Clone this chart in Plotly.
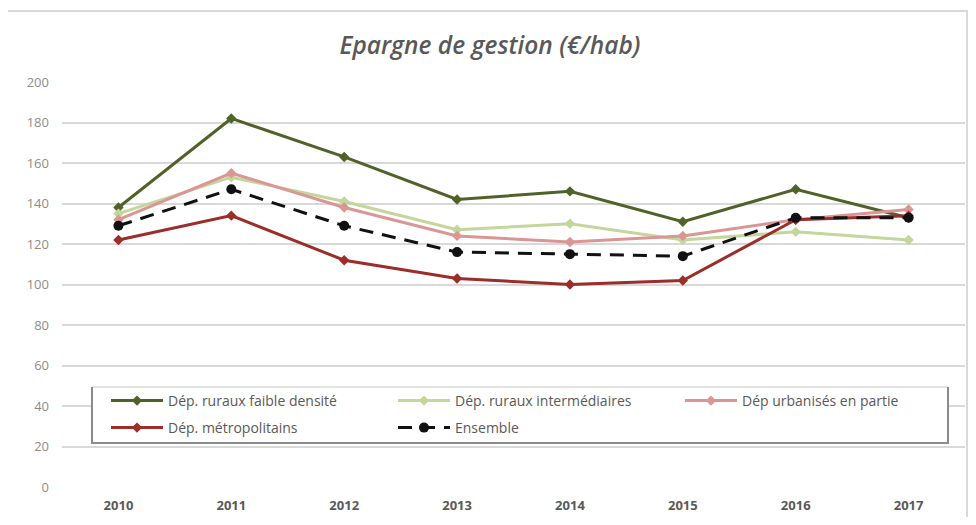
import plotly.graph_objects as go

years = ["2010", "2011", "2012", "2013", "2014", "2015", "2016", "2017"]
faible_densite = [138, 182, 163, 142, 146, 131, 147, 133]
intermediaires = [135, 153, 141, 127, 130, 122, 126, 122]
urbanises = [132, 155, 138, 124, 121, 124, 132, 137]
metropolitains = [122, 134, 112, 103, 100, 102, 132, 134]
ensemble = [129, 147, 129, 116, 115, 114, 133, 133]

series_names = ["Dép. ruraux faible densité", "Dép. ruraux intermédiaires",
                "Dép urbanisés en partie", "Dép. métropolitains", "Ensemble"]
series_values = [faible_densite, intermediaires, urbanises, metropolitains, ensemble]
colors = ["#4f6228", "#c3d69b", "#d99694", "#9b2d2a", "#111111"]

# page geometry (the page body has an 8px offset)
OFF = 8
PL, PR, PT, PB = 62, 965, 82, 487  # plot area in page pixels
W, H = 960, 509
PW, PH = PR - PL, PB - PT


def px(x):
    return (x - PL) / PW


def py(y):
    return (PB - y) / PH


# legend slots (page pixel positions of line start, row centre)
slots = [(106, 401), (393, 401), (680, 401), (106, 428), (393, 428)]

fig = go.Figure()
for i, (name, vals, col) in enumerate(zip(series_names, series_values, colors)):
    is_ens = name == "Ensemble"
    lg = "legend" if i == 0 else f"legend{i + 1}"
    fig.add_trace(go.Scatter(
        x=years, y=vals, name=name, mode="lines+markers", legend=lg,
        showlegend=True,
        line=dict(color=col, width=3, dash="14px,9px" if is_ens else None),
        marker=dict(symbol="circle" if is_ens else "diamond",
                    size=10 if is_ens else 8, color=col),
    ))

legends = {}
for i, (sx, sy) in enumerate(slots):
    key = "legend" if i == 0 else f"legend{i + 1}"
    legends[key] = dict(x=px(sx), y=py(sy), xanchor="left", yanchor="middle",
                        bgcolor="rgba(0,0,0,0)", borderwidth=0, itemwidth=52,
                        font=dict(size=14, color="#595959"))

bx0, bx1, by0, by1 = 92, 948, 443, 387
fig.update_layout(
    width=W, height=H, showlegend=True,
    margin=dict(l=PL - OFF, r=W - (PR - OFF), t=PT - OFF, b=H - (PB - OFF)),
    paper_bgcolor="white", plot_bgcolor="white",
    font=dict(family="Open Sans, Liberation Sans, sans-serif", color="#595959"),
    title=dict(text="<i>Epargne de gestion (€/hab)</i>", x=(490 - OFF) / W,
               xanchor="center", y=1 - (45 - OFF) / H, yanchor="middle",
               font=dict(size=24.5, color="#595959", weight=600,
                         family="Open Sans, sans-serif")),
    xaxis=dict(type="category", range=[-0.5, len(years) - 0.5],
               showgrid=False, showline=False, zeroline=False,
               ticks="", ticklabelstandoff=9,
               tickfont=dict(size=13, color="#595959", weight="bold")),
    yaxis=dict(range=[0, 200], dtick=20, showgrid=True, gridcolor="#d9d9d9",
               gridwidth=2, zeroline=False, showline=False, ticks="",
               tickfont=dict(size=13, color="#8c8c8c"), ticklabelstandoff=12),
    **legends,
    shapes=[
        dict(type="rect", xref="paper", yref="paper",
             x0=px(7), x1=px(OFF + W - 1), y0=py(540), y1=py(11),
             line=dict(color="#d9d9d9", width=2), layer="below"),
        dict(type="rect", xref="paper", yref="paper",
             x0=px(bx0), x1=px(bx1), y0=py(by0), y1=py(by1),
             fillcolor="white", line=dict(width=0), layer="above"),
        dict(type="line", xref="paper", yref="paper",
             x0=px(bx0), x1=px(bx1), y0=py(by1), y1=py(by1),
             line=dict(color="#e3e3e3", width=2)),
        dict(type="path", xref="paper", yref="paper",
             path=f"M{px(bx0)},{py(by1)} L{px(bx0)},{py(by0)} L{px(bx1)},{py(by0)} L{px(bx1)},{py(by1)}",
             line=dict(color="#8a8a8a", width=2)),
    ],
)

fig.write_html("out.html")
